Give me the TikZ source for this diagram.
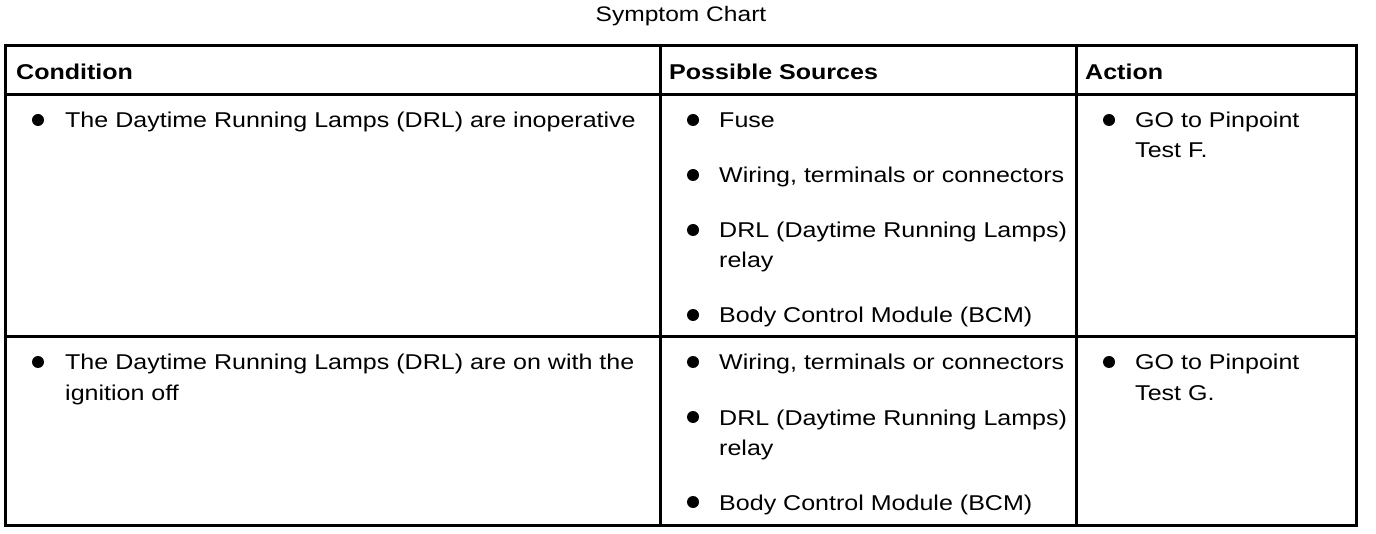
\documentclass[tikz,border=0pt]{standalone}
\usepackage{fontspec}
\setmainfont[FakeStretch=1.17]{Liberation Sans}
\begin{document}
\begin{tikzpicture}[x=1pt,y=-1pt,
  txt/.style={anchor=base west,inner sep=0pt,font=\fontsize{21.4}{30}\selectfont},
  hdr/.style={txt,font=\fontsize{21.4}{30}\selectfont\bfseries},
  bul/.style={circle,fill=black,inner sep=0pt,minimum size=12pt},
  grid/.style={line width=3pt}]
\useasboundingbox (0,0) rectangle (1376,534);
\node[anchor=base,inner sep=0pt,font=\fontsize{21}{30}\selectfont] (title) at (681,22) {Symptom Chart};
% table
\draw[grid] (5,46) rectangle (1356,525);
\draw[grid] (5,95) -- (1356,95);
\draw[grid] (5,337) -- (1356,337);
\draw[grid] (660,46) -- (660,525);
\draw[grid] (1076,46) -- (1076,525);
% headers
\node[hdr] (h1) at (16,80) {Condition};
\node[hdr] (h2) at (669,80) {Possible Sources};
\node[hdr] (h3) at (1085,80) {Action};
% row 1
\node[bul] (b11) at (38,120) {};
\node[txt] (c1) at (65,128) {The Daytime Running Lamps (DRL) are inoperative};
\node[bul] (b12) at (693,120) {};
\node[txt] (s11) at (719,128) {Fuse};
\node[bul] (b13) at (693,175) {};
\node[txt] (s12) at (719,183) {Wiring, terminals or connectors};
\node[bul] (b14) at (693,230) {};
\node[txt] (s13) at (719,238) {DRL (Daytime Running Lamps)};
\node[txt] (s13b) at (719,268) {relay};
\node[bul] (b15) at (693,315) {};
\node[txt] (s14) at (719,323) {Body Control Module (BCM)};
\node[bul] (b16) at (1109,120) {};
\node[txt] (a1) at (1135,128) {GO to Pinpoint};
\node[txt] (a1b) at (1135,158) {Test F.};
% row 2
\node[bul] (b21) at (38,362) {};
\node[txt] (c2) at (65,370) {The Daytime Running Lamps (DRL) are on with the};
\node[txt] (c2b) at (65,400) {ignition off};
\node[bul] (b22) at (693,362) {};
\node[txt] (s21) at (719,370) {Wiring, terminals or connectors};
\node[bul] (b23) at (693,417) {};
\node[txt] (s22) at (719,425) {DRL (Daytime Running Lamps)};
\node[txt] (s22b) at (719,455) {relay};
\node[bul] (b24) at (693,502) {};
\node[txt] (s23) at (719,510) {Body Control Module (BCM)};
\node[bul] (b25) at (1109,362) {};
\node[txt] (a2) at (1135,370) {GO to Pinpoint};
\node[txt] (a2b) at (1135,400) {Test G.};
\end{tikzpicture}
\end{document}
